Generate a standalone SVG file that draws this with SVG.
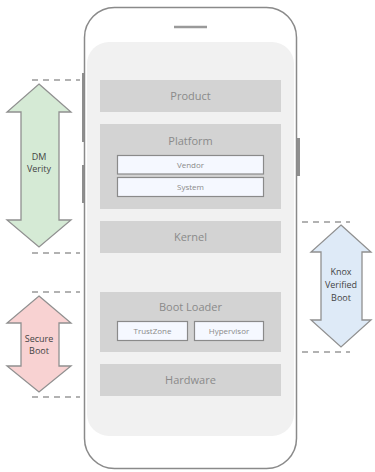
<svg xmlns="http://www.w3.org/2000/svg" width="375" height="472" viewBox="0 0 375 472">
<style>
.layer{fill:#d3d3d3}
.lt{font-family:"Open Sans","Liberation Sans",sans-serif;font-size:11px;fill:#8a8a8a;text-anchor:middle}
.sub{fill:#f5f8ff;stroke:#8a8a8a;stroke-width:1.2}
.st{font-family:"Open Sans","Liberation Sans",sans-serif;font-size:8px;fill:#8a8a8a;text-anchor:middle}
.arr{stroke:#909090;stroke-width:1.3;stroke-linejoin:miter}
.at{font-family:"Open Sans","Liberation Sans",sans-serif;font-size:9px;fill:#444;text-anchor:middle}
.dash{stroke:#999;stroke-width:1.3;stroke-dasharray:6,5;fill:none}
</style>
<rect width="375" height="472" fill="#ffffff"/>
<g id="phone">
<rect x="82" y="73" width="3" height="69" fill="#8f8f8f"/>
<rect x="82" y="165" width="3" height="38" fill="#8f8f8f"/>
<rect x="296" y="138" width="4" height="38" fill="#8f8f8f"/>
<rect x="84.5" y="7.5" width="212" height="461" rx="30" fill="#ffffff" stroke="#8a8a8a" stroke-width="1.5"/>
<rect x="87" y="42" width="207" height="394" rx="22" fill="#f1f1f1"/>
<line x1="174" y1="27" x2="207" y2="27" stroke="#9a9a9a" stroke-width="2.5"/>
</g>
<g id="product">
<rect class="layer" x="100" y="80" width="181" height="32"/>
<text class="lt" x="190.5" y="100">Product</text>
</g>
<g id="platform">
<rect class="layer" x="100" y="124" width="181" height="85"/>
<text class="lt" x="190.5" y="145">Platform</text>
</g>
<g id="vendor">
<rect class="sub" x="117.5" y="155.5" width="146" height="18.5"/>
<text class="st" x="190.5" y="168">Vendor</text>
</g>
<g id="system">
<rect class="sub" x="117.5" y="177.5" width="146" height="19"/>
<text class="st" x="190.5" y="190">System</text>
</g>
<g id="kernel">
<rect class="layer" x="100" y="221" width="181" height="32"/>
<text class="lt" x="190.5" y="241">Kernel</text>
</g>
<g id="bootloader">
<rect class="layer" x="100" y="292" width="181" height="60"/>
<text class="lt" x="190.5" y="311">Boot Loader</text>
</g>
<g id="trustzone">
<rect class="sub" x="117.5" y="321.5" width="70" height="19"/>
<text class="st" x="152.5" y="334">TrustZone</text>
</g>
<g id="hypervisor">
<rect class="sub" x="194.5" y="321.5" width="69" height="19"/>
<text class="st" x="229" y="334">Hypervisor</text>
</g>
<g id="hardware">
<rect class="layer" x="100" y="364" width="181" height="32"/>
<text class="lt" x="190.5" y="384">Hardware</text>
</g>
<g id="connectors">
<line class="dash" x1="32" y1="80" x2="80" y2="80"/>
<line class="dash" x1="32" y1="253" x2="80" y2="253"/>
<line class="dash" x1="32" y1="292" x2="80" y2="292"/>
<line class="dash" x1="32" y1="397" x2="80" y2="397"/>
<line class="dash" x1="302" y1="222" x2="350" y2="222"/>
<line class="dash" x1="302" y1="352" x2="350" y2="352"/>
</g>
<g id="dm-verity">
<path class="arr" fill="#d5ead5" d="M39,84 L71,112 L59,112 L59,220 L71,220 L39,247 L7,220 L21,220 L21,112 L7,112 Z"/>
<text class="at" x="39" y="160">DM</text>
<text class="at" x="39" y="172">Verity</text>
</g>
<g id="secure-boot">
<path class="arr" fill="#f8d2d2" d="M39,296 L71,323 L59,323 L59,366 L71,366 L39,392 L7,366 L21,366 L21,323 L7,323 Z"/>
<text class="at" x="39" y="342">Secure</text>
<text class="at" x="39" y="354">Boot</text>
</g>
<g id="knox">
<path class="arr" fill="#deeaf7" d="M341,225 L371,252 L362,252 L362,320 L371,320 L341,347 L311,320 L321,320 L321,252 L311,252 Z"/>
<text class="at" x="341" y="275">Knox</text>
<text class="at" x="341" y="288">Verified</text>
<text class="at" x="341" y="301">Boot</text>
</g>
</svg>
